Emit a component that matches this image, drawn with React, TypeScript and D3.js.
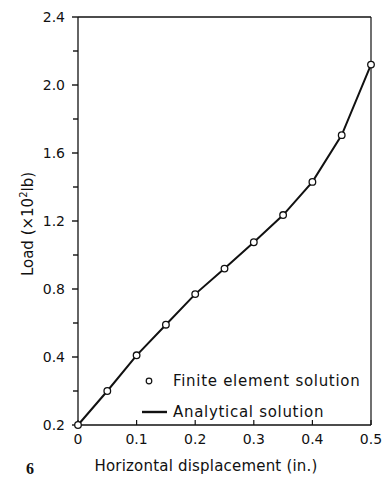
import React from "react";
import * as d3 from "d3";

const displacement = [0, 0.05, 0.1, 0.15, 0.2, 0.25, 0.3, 0.35, 0.4, 0.45, 0.5];
const finiteElementLoad = [0, 0.2, 0.41, 0.59, 0.77, 0.92, 1.075, 1.235, 1.43, 1.705, 2.12];
const analyticalLoad = [0, 0.2, 0.41, 0.59, 0.77, 0.92, 1.075, 1.235, 1.43, 1.705, 2.12];

const xTickValues = [0, 0.1, 0.2, 0.3, 0.4, 0.5];
const xTickLabels = ["0", "0.1", "0.2", "0.3", "0.4", "0.5"];
const yTickValues = [0, 0.4, 0.8, 1.2, 1.6, 2.0, 2.4];
const yTickLabels = ["0.2", "0.4", "0.8", "1.2", "1.6", "2.0", "2.4"];
const yMinorTicks = [0.2, 0.6, 1.0, 1.4, 1.8, 2.2];

const legendLabels = ["Finite element solution", "Analytical solution"];

export default function App() {
  const W = 389;
  const H = 482;
  const x = d3.scaleLinear().domain([0, 0.5]).range([78, 371]);
  const y = d3.scaleLinear().domain([0, 2.4]).range([425, 17]);
  const line = d3
    .line<number>()
    .x((_, i) => x(displacement[i]))
    .y((d) => y(d));
  const numFont = "DejaVu Sans, sans-serif";
  const ink = "#111";
  return (
    <svg
      width={W}
      height={H}
      style={{ position: "absolute", left: 0, top: 0, background: "#fff" }}
    >
      {/* frame */}
      <line x1={x(0)} x2={x(0.5)} y1={y(2.4)} y2={y(2.4)} stroke={ink} strokeWidth={1.6} />
      <line x1={x(0.5)} x2={x(0.5)} y1={y(2.4)} y2={y(0)} stroke={ink} strokeWidth={1.2} />
      <line x1={x(0)} x2={x(0)} y1={y(2.4)} y2={y(0)} stroke={ink} strokeWidth={1.3} />
      <line x1={x(0)} x2={x(0.5)} y1={y(0)} y2={y(0)} stroke={ink} strokeWidth={1.3} />

      {/* y ticks */}
      {yTickValues.map((v, i) => (
        <g key={"yt" + i}>
          <line x1={x(0) - 6} x2={x(0)} y1={y(v)} y2={y(v)} stroke={ink} strokeWidth={1.4} />
          <text
            x={65}
            y={y(v)}
            dy="0.36em"
            textAnchor="end"
            fontFamily={numFont}
            fontSize={14}
            fill={ink}
          >
            {yTickLabels[i]}
          </text>
        </g>
      ))}
      {yMinorTicks.map((v, i) => (
        <line key={"ym" + i} x1={x(0) - 5} x2={x(0)} y1={y(v)} y2={y(v)} stroke={ink} strokeWidth={1.4} />
      ))}

      {/* x ticks */}
      {xTickValues.map((v, i) => (
        <g key={"xt" + i}>
          <line x1={x(v)} x2={x(v)} y1={y(0)} y2={y(0) - 5} stroke={ink} strokeWidth={1.2} />
          <text
            x={x(v)}
            y={444}
            textAnchor="middle"
            fontFamily={numFont}
            fontSize={14}
            fill={ink}
          >
            {xTickLabels[i]}
          </text>
        </g>
      ))}

      {/* axis titles */}
      <text
        transform={`translate(33,224) rotate(-90)`}
        textAnchor="middle"
        fontFamily={numFont}
        fontSize={15}
        fill={ink}
      >
        Load (×10<tspan dy="-6" fontSize={10}>2</tspan>
        <tspan dy="6">lb)</tspan>
      </text>
      <text
        x={206}
        y={471}
        textAnchor="middle"
        fontFamily={numFont}
        fontSize={15}
        letterSpacing={0.2}
        fill={ink}
      >
        Horizontal displacement (in.)
      </text>
      <text x={30} y={474} textAnchor="middle" fontFamily="Liberation Serif, serif" fontWeight="bold" fontSize={16} fill={ink}>
        6
      </text>

      {/* analytical line */}
      <path d={line(analyticalLoad) || ""} fill="none" stroke={ink} strokeWidth={2} />
      {/* finite element points */}
      {finiteElementLoad.map((v, i) => (
        <circle key={"p" + i} cx={x(displacement[i])} cy={y(v)} r={3.3} fill="#fff" stroke={ink} strokeWidth={1.3} />
      ))}

      {/* legend */}
      <circle cx={149} cy={381} r={2.8} fill="#fff" stroke={ink} strokeWidth={1.2} />
      <text x={173} y={386} fontFamily={numFont} fontSize={15} letterSpacing={0.7} fill={ink}>
        {legendLabels[0]}
      </text>
      <line x1={142} x2={167} y1={412} y2={412} stroke={ink} strokeWidth={2.4} />
      <text x={173} y={417} fontFamily={numFont} fontSize={15} letterSpacing={0.7} fill={ink}>
        {legendLabels[1]}
      </text>
    </svg>
  );
}
